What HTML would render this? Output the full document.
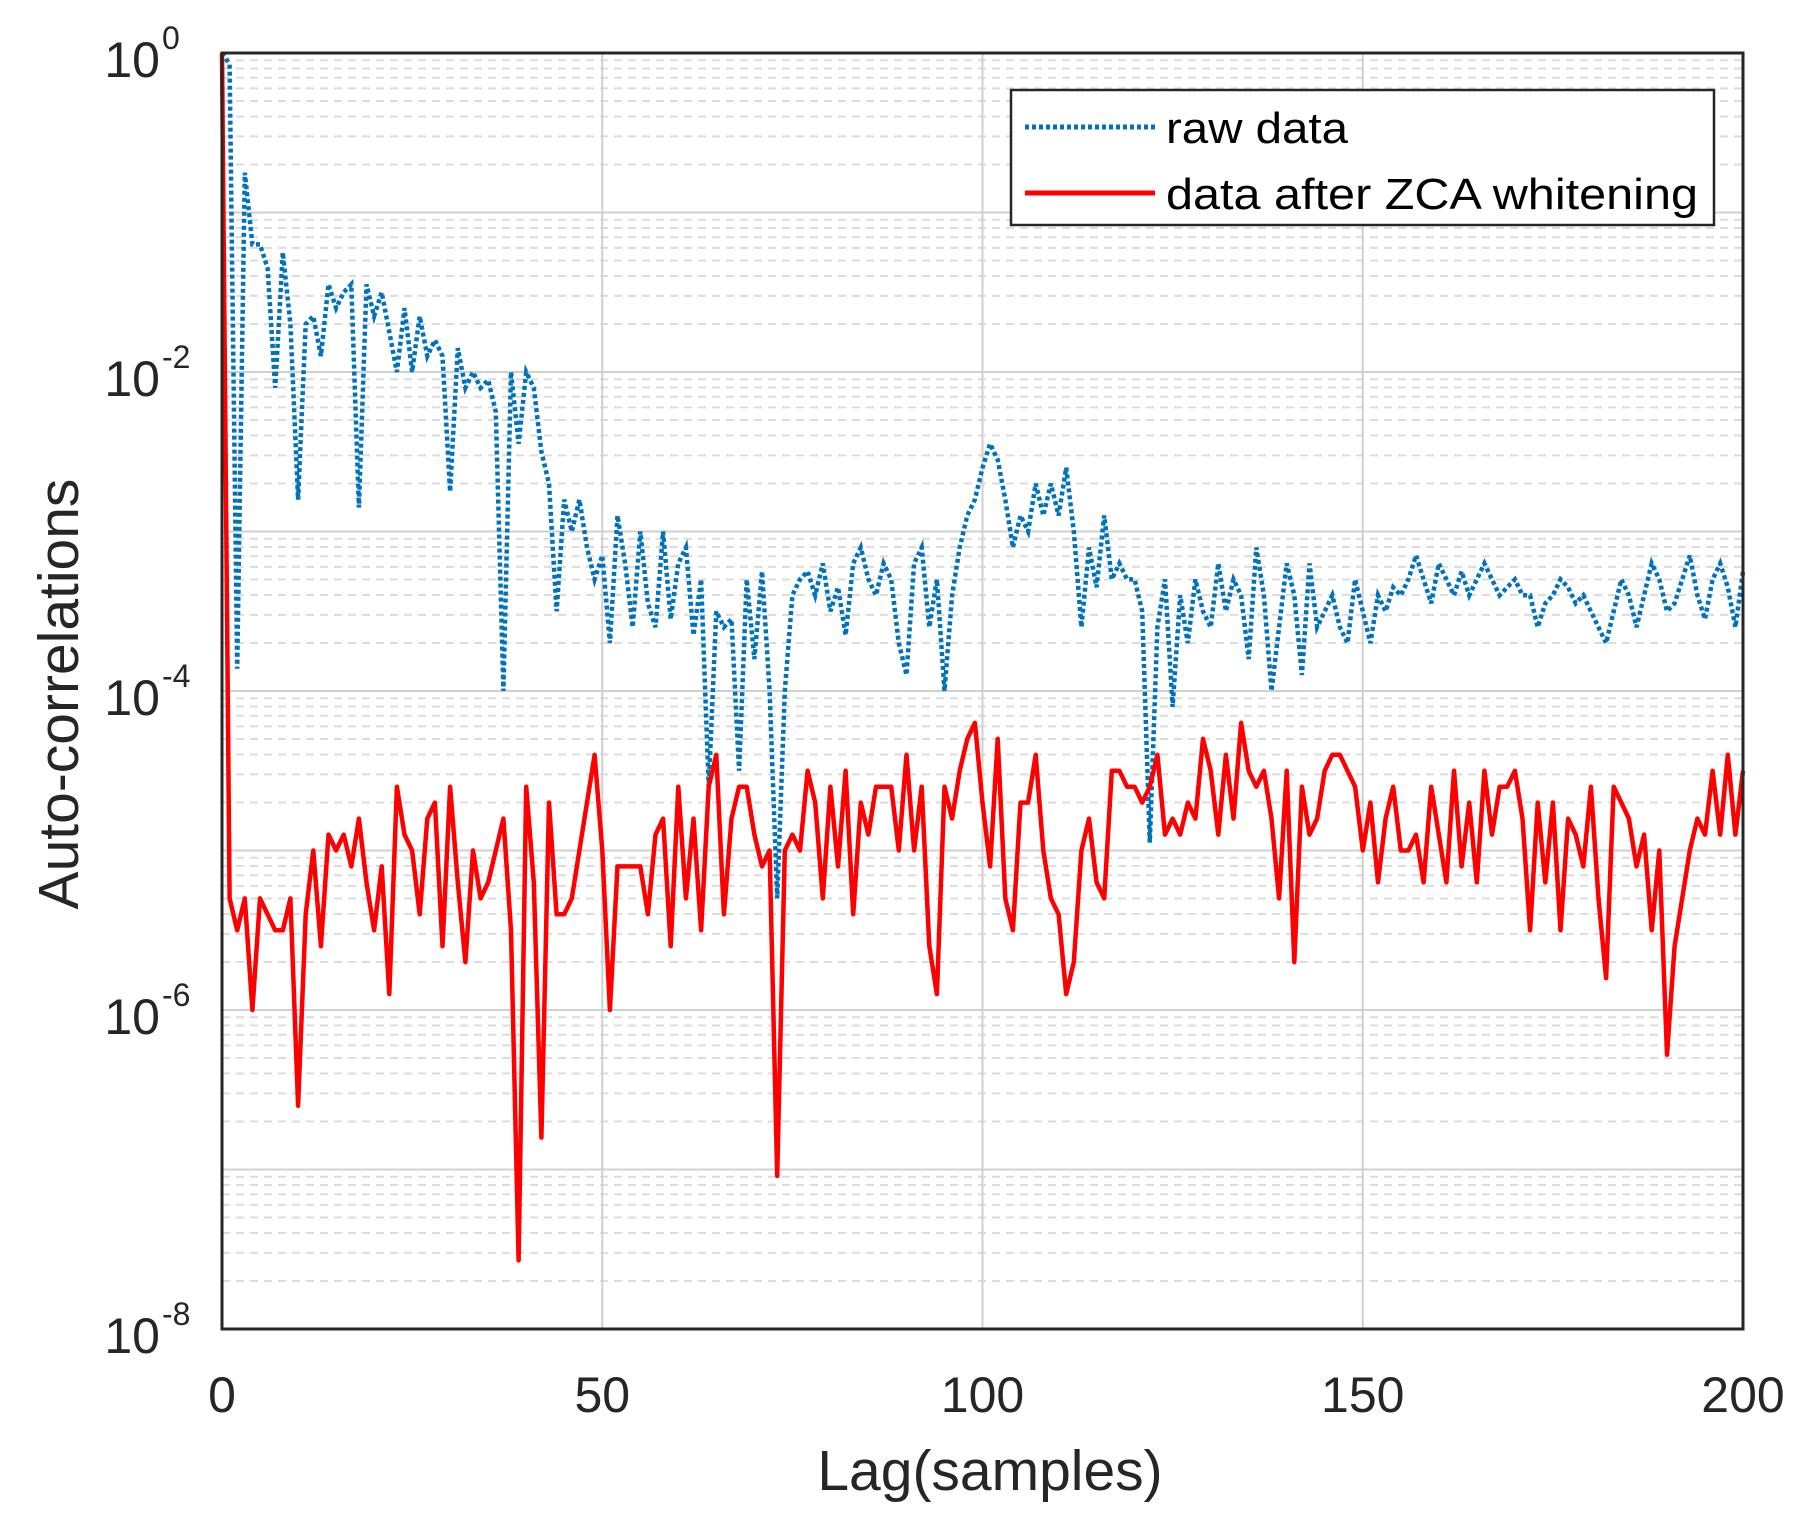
<!DOCTYPE html>
<html><head><meta charset="utf-8"><style>
html,body{margin:0;padding:0;background:#fff;}
svg{display:block;font-family:"Liberation Sans",sans-serif;}
</style></head><body>
<svg id="s" width="1807" height="1522" viewBox="0 0 1807 1522" xmlns="http://www.w3.org/2000/svg">
<rect width="1807" height="1522" fill="#fff"/>
<g id="grid"></g>
<g id="data"></g>
<rect x="222" y="53" width="1521" height="1276" fill="none" stroke="#262626" stroke-width="3"/>
<g id="labels" fill="#262626"></g>
<text x="990" y="1490" font-size="57" text-anchor="middle" fill="#262626">Lag(samples)</text>
<text transform="translate(78 694) rotate(-90)" font-size="57" text-anchor="middle" fill="#262626">Auto-correlations</text>
<rect x="1011" y="90" width="703" height="135" fill="#fff" stroke="#262626" stroke-width="2.5"/>
<line x1="1025" y1="127" x2="1155" y2="127" stroke="#0072BD" stroke-width="5" stroke-dasharray="4 3"/>
<line x1="1025" y1="193" x2="1155" y2="193" stroke="#ff0000" stroke-width="5"/>
<text x="1166" y="143" font-size="44" fill="#000" textLength="182" lengthAdjust="spacingAndGlyphs">raw data</text>
<text x="1166" y="209" font-size="44" fill="#000" textLength="532" lengthAdjust="spacingAndGlyphs">data after ZCA whitening</text>
</svg>
<script>
var X0=222,X1=1743,Y0=53,PD=159.5,PX=(X1-X0)/200;
var ns="http://www.w3.org/2000/svg";
function el(t,a,p){var e=document.createElementNS(ns,t);for(var k in a)e.setAttribute(k,a[k]);document.getElementById(p).appendChild(e);return e;}
for(var d=0;d<8;d++){for(var m=2;m<=9;m++){var y=Y0+(d+1-Math.log10(m))*PD;
 el("line",{x1:X0,x2:X1,y1:y,y2:y,stroke:"#dcdcdc","stroke-width":2,"stroke-dasharray":"8 6"},"grid");}}
for(var d=1;d<8;d++){var y=Y0+d*PD;el("line",{x1:X0,x2:X1,y1:y,y2:y,stroke:"#d0d0d0","stroke-width":2},"grid");}
for(var l=50;l<200;l+=50){var x=X0+l*PX;el("line",{x1:x,x2:x,y1:Y0,y2:Y0+8*PD,stroke:"#d0d0d0","stroke-width":2},"grid");}
for(var l=0;l<=200;l+=50){var t=el("text",{x:X0+l*PX,y:1412,"font-size":50,"text-anchor":"middle"},"labels");t.textContent=l;}
for(var d=0;d<=8;d+=2){var y=Y0+d*PD;var t=el("text",{x:160,y:y+24,"font-size":50,"text-anchor":"end"},"labels");t.textContent="10";
 var s=el("text",{x:162,y:y-4,"font-size":32},"labels");s.textContent=d==0?"0":"-"+d;}
var red=[0,5.3,5.5,5.3,6.0,5.3,5.4,5.5,5.5,5.3,6.6,5.4,5.0,5.6,4.9,5.0,4.9,5.1,4.8,5.2,5.5,5.1,5.9,4.6,4.9,5.0,5.4,4.8,4.7,5.6,4.6,5.2,5.7,5.0,5.3,5.2,5.0,4.8,5.5,7.57,4.6,5.2,6.8,4.7,5.4,5.4,5.3,5.0,4.7,4.4,5.0,6.0,5.1,5.1,5.1,5.1,5.4,4.9,4.8,5.6,4.6,5.3,4.8,5.5,4.6,4.4,5.4,4.8,4.6,4.6,4.9,5.1,5.0,7.04,5.0,4.9,5.0,4.5,4.7,5.3,4.6,5.1,4.5,5.4,4.7,4.9,4.6,4.6,4.6,5.0,4.4,5.0,4.6,5.6,5.9,4.6,4.8,4.5,4.3,4.2,4.7,5.1,4.3,5.3,5.5,4.7,4.7,4.4,5.0,5.3,5.4,5.9,5.7,5.0,4.8,5.2,5.3,4.5,4.5,4.6,4.6,4.7,4.6,4.4,4.9,4.8,4.9,4.7,4.8,4.3,4.5,4.9,4.4,4.8,4.2,4.5,4.6,4.5,4.8,5.3,4.5,5.7,4.6,4.9,4.8,4.5,4.4,4.4,4.5,4.6,5.0,4.7,5.2,4.8,4.6,5.0,5.0,4.9,5.2,4.6,4.9,5.2,4.5,5.1,4.7,5.2,4.5,4.9,4.6,4.6,4.5,4.8,5.5,4.7,5.2,4.7,5.5,4.8,4.9,5.1,4.6,5.3,5.8,4.6,4.7,4.8,5.1,4.9,5.5,5.0,6.28,5.6,5.3,5.0,4.8,4.9,4.5,4.9,4.4,4.9,4.5];
var blue=[0,0.07,3.86,0.75,1.2,1.2,1.35,2.1,1.25,1.7,2.8,1.7,1.65,1.9,1.45,1.6,1.5,1.45,2.85,1.45,1.65,1.5,1.75,2.0,1.6,2.0,1.65,1.9,1.8,1.9,2.75,1.85,2.1,2.0,2.1,2.05,2.25,4.0,2.0,2.45,2.0,2.1,2.5,2.7,3.5,2.8,3.0,2.8,3.1,3.3,3.15,3.7,2.9,3.2,3.6,3.0,3.45,3.6,3.0,3.55,3.2,3.1,3.65,3.3,4.6,3.5,3.6,3.55,4.5,3.3,3.8,3.25,4.0,5.3,4.0,3.4,3.3,3.25,3.4,3.2,3.5,3.35,3.65,3.2,3.1,3.3,3.4,3.2,3.3,3.7,3.9,3.2,3.1,3.6,3.3,4.0,3.4,3.1,2.9,2.8,2.6,2.45,2.55,2.8,3.1,2.9,3.0,2.7,2.9,2.7,2.9,2.6,3.0,3.6,3.1,3.35,2.9,3.3,3.2,3.3,3.3,3.5,4.95,3.6,3.3,4.1,3.4,3.7,3.3,3.5,3.6,3.2,3.5,3.3,3.4,3.8,3.1,3.4,4.0,3.6,3.2,3.4,3.9,3.2,3.6,3.5,3.4,3.6,3.7,3.3,3.5,3.7,3.4,3.5,3.35,3.4,3.3,3.15,3.3,3.45,3.2,3.3,3.4,3.25,3.4,3.3,3.2,3.3,3.4,3.35,3.3,3.4,3.4,3.6,3.45,3.4,3.3,3.35,3.45,3.4,3.5,3.6,3.7,3.5,3.3,3.4,3.6,3.4,3.2,3.3,3.5,3.45,3.3,3.15,3.4,3.55,3.3,3.2,3.35,3.6,3.25];
function pts(a){return a.map(function(v,i){return (X0+i*PX).toFixed(1)+","+(Y0+v*PD).toFixed(1);}).join(" ");}
el("polyline",{points:pts(blue),fill:"none",stroke:"#0072BD","stroke-width":4.5,"stroke-dasharray":"4 3"},"data");
el("polyline",{points:pts(red),fill:"none",stroke:"#ff0000","stroke-width":4.5,"stroke-linejoin":"round"},"data");
</script>
</body></html>
